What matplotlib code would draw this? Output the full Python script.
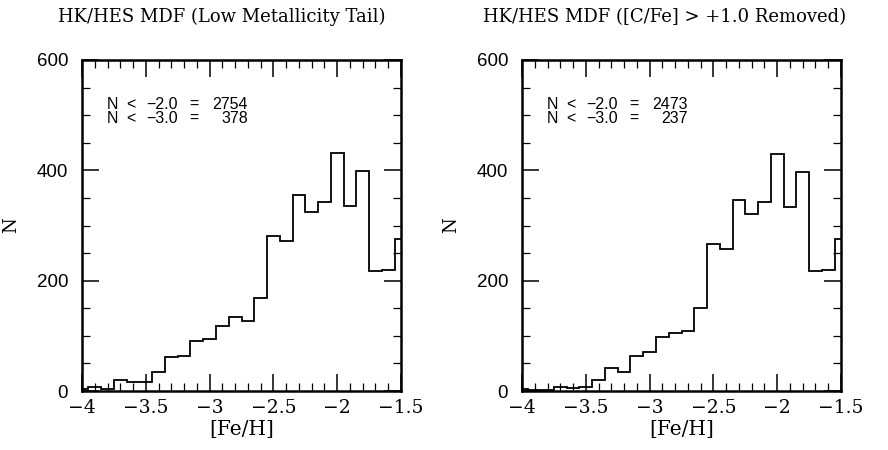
import numpy as np
import matplotlib
matplotlib.use("Agg")
import matplotlib.pyplot as plt
from matplotlib.ticker import MultipleLocator, FuncFormatter

# ---- data ----
bin_centers = [-4.0, -3.9, -3.8, -3.7, -3.6, -3.5, -3.4, -3.3, -3.2, -3.1,
               -3.0, -2.9, -2.8, -2.7, -2.6, -2.5, -2.4, -2.3, -2.2, -2.1,
               -2.0, -1.9, -1.8, -1.7, -1.6, -1.5]
bin_width = 0.1
counts_all = [3, 8, 3, 20, 17, 17, 34, 61, 64, 91,
              94, 118, 135, 126, 168, 281, 271, 355, 324, 342,
              431, 336, 398, 218, 220, 276]
counts_nocemp = [3, 2, 1, 8, 5, 8, 20, 42, 35, 64,
                 71, 98, 106, 108, 151, 266, 258, 346, 320, 342,
                 429, 333, 397, 218, 220, 275]
titles = ["HK/HES MDF (Low Metallicity Tail)",
          "HK/HES MDF ([C/Fe] > +1.0 Removed)"]
stats = [("2754", "378"), ("2473", "237")]
thresholds = ["\u22122.0", "\u22123.0"]
xlabel = "[Fe/H]"
ylabel = "N"

W, H = 888, 450
fig = plt.figure(figsize=(W / 100, H / 100), dpi=100)

serif = "DejaVu Serif"
sans = "Liberation Sans"

lefts = [82, 522]
title_cx = [222, 665]
series = [counts_all, counts_nocemp]

xfmt = FuncFormatter(lambda v, p: ("%g" % v).replace("-", "\u2212"))

for i in range(2):
    ax = fig.add_axes([lefts[i] / W, 1 - 391 / H, 319 / W, 331 / H])
    centers = np.array(bin_centers)
    edges = np.append(centers - bin_width / 2, centers[-1] + bin_width / 2)
    ax.stairs(series[i], edges, color="black", linewidth=1.3, baseline=0)
    ax.set_xlim(-4, -1.5)
    ax.set_ylim(0, 600)
    ax.xaxis.set_major_locator(MultipleLocator(0.5))
    ax.xaxis.set_minor_locator(MultipleLocator(0.1))
    ax.xaxis.set_major_formatter(xfmt)
    ax.yaxis.set_major_locator(MultipleLocator(200))
    ax.yaxis.set_minor_locator(MultipleLocator(50))
    ax.tick_params(which="both", direction="in", top=True, right=True,
                   color="black")
    ax.tick_params(which="major", length=12, width=1.1)
    ax.tick_params(which="minor", length=6, width=0.9)
    ax.tick_params(axis="x", pad=6)
    ax.tick_params(axis="y", pad=10)
    for sp in ax.spines.values():
        sp.set_linewidth(1.8)
    for lab in ax.get_xticklabels():
        lab.set_fontfamily(serif)
        lab.set_fontsize(13.5)
    for lab in ax.get_yticklabels():
        lab.set_fontfamily(sans)
        lab.set_fontsize(13.5)
    ax.set_xlabel(xlabel, fontfamily=serif, fontsize=14.5, labelpad=2)
    ax.set_ylabel(ylabel, fontfamily=serif, fontsize=13, labelpad=12)

    # statistics annotation: one two-line text per column
    def fx(px):
        return (px - 82) / 319
    yy = (391 - 111.5) / 331
    kw = dict(transform=ax.transAxes, fontfamily=sans, fontsize=11.5,
              va="center", linespacing=0.9)
    ax.text(fx(112), yy, "N\nN", ha="center", multialignment="center", **kw)
    ax.text(fx(130.5), yy, "<\n<", ha="center", multialignment="center", **kw)
    ax.text(fx(162), yy, "\n".join(thresholds), ha="center",
            multialignment="center", **kw)
    ax.text(fx(194), yy, "=\n=", ha="center", multialignment="center", **kw)
    ax.text(fx(248), yy, "\n".join(stats[i]), ha="right",
            multialignment="right", **kw)

    fig.text(title_cx[i] / W, 1 - 17 / H, titles[i], fontfamily=serif,
             fontsize=13, ha="center", va="center")

fig.savefig("out.png", dpi=100)
